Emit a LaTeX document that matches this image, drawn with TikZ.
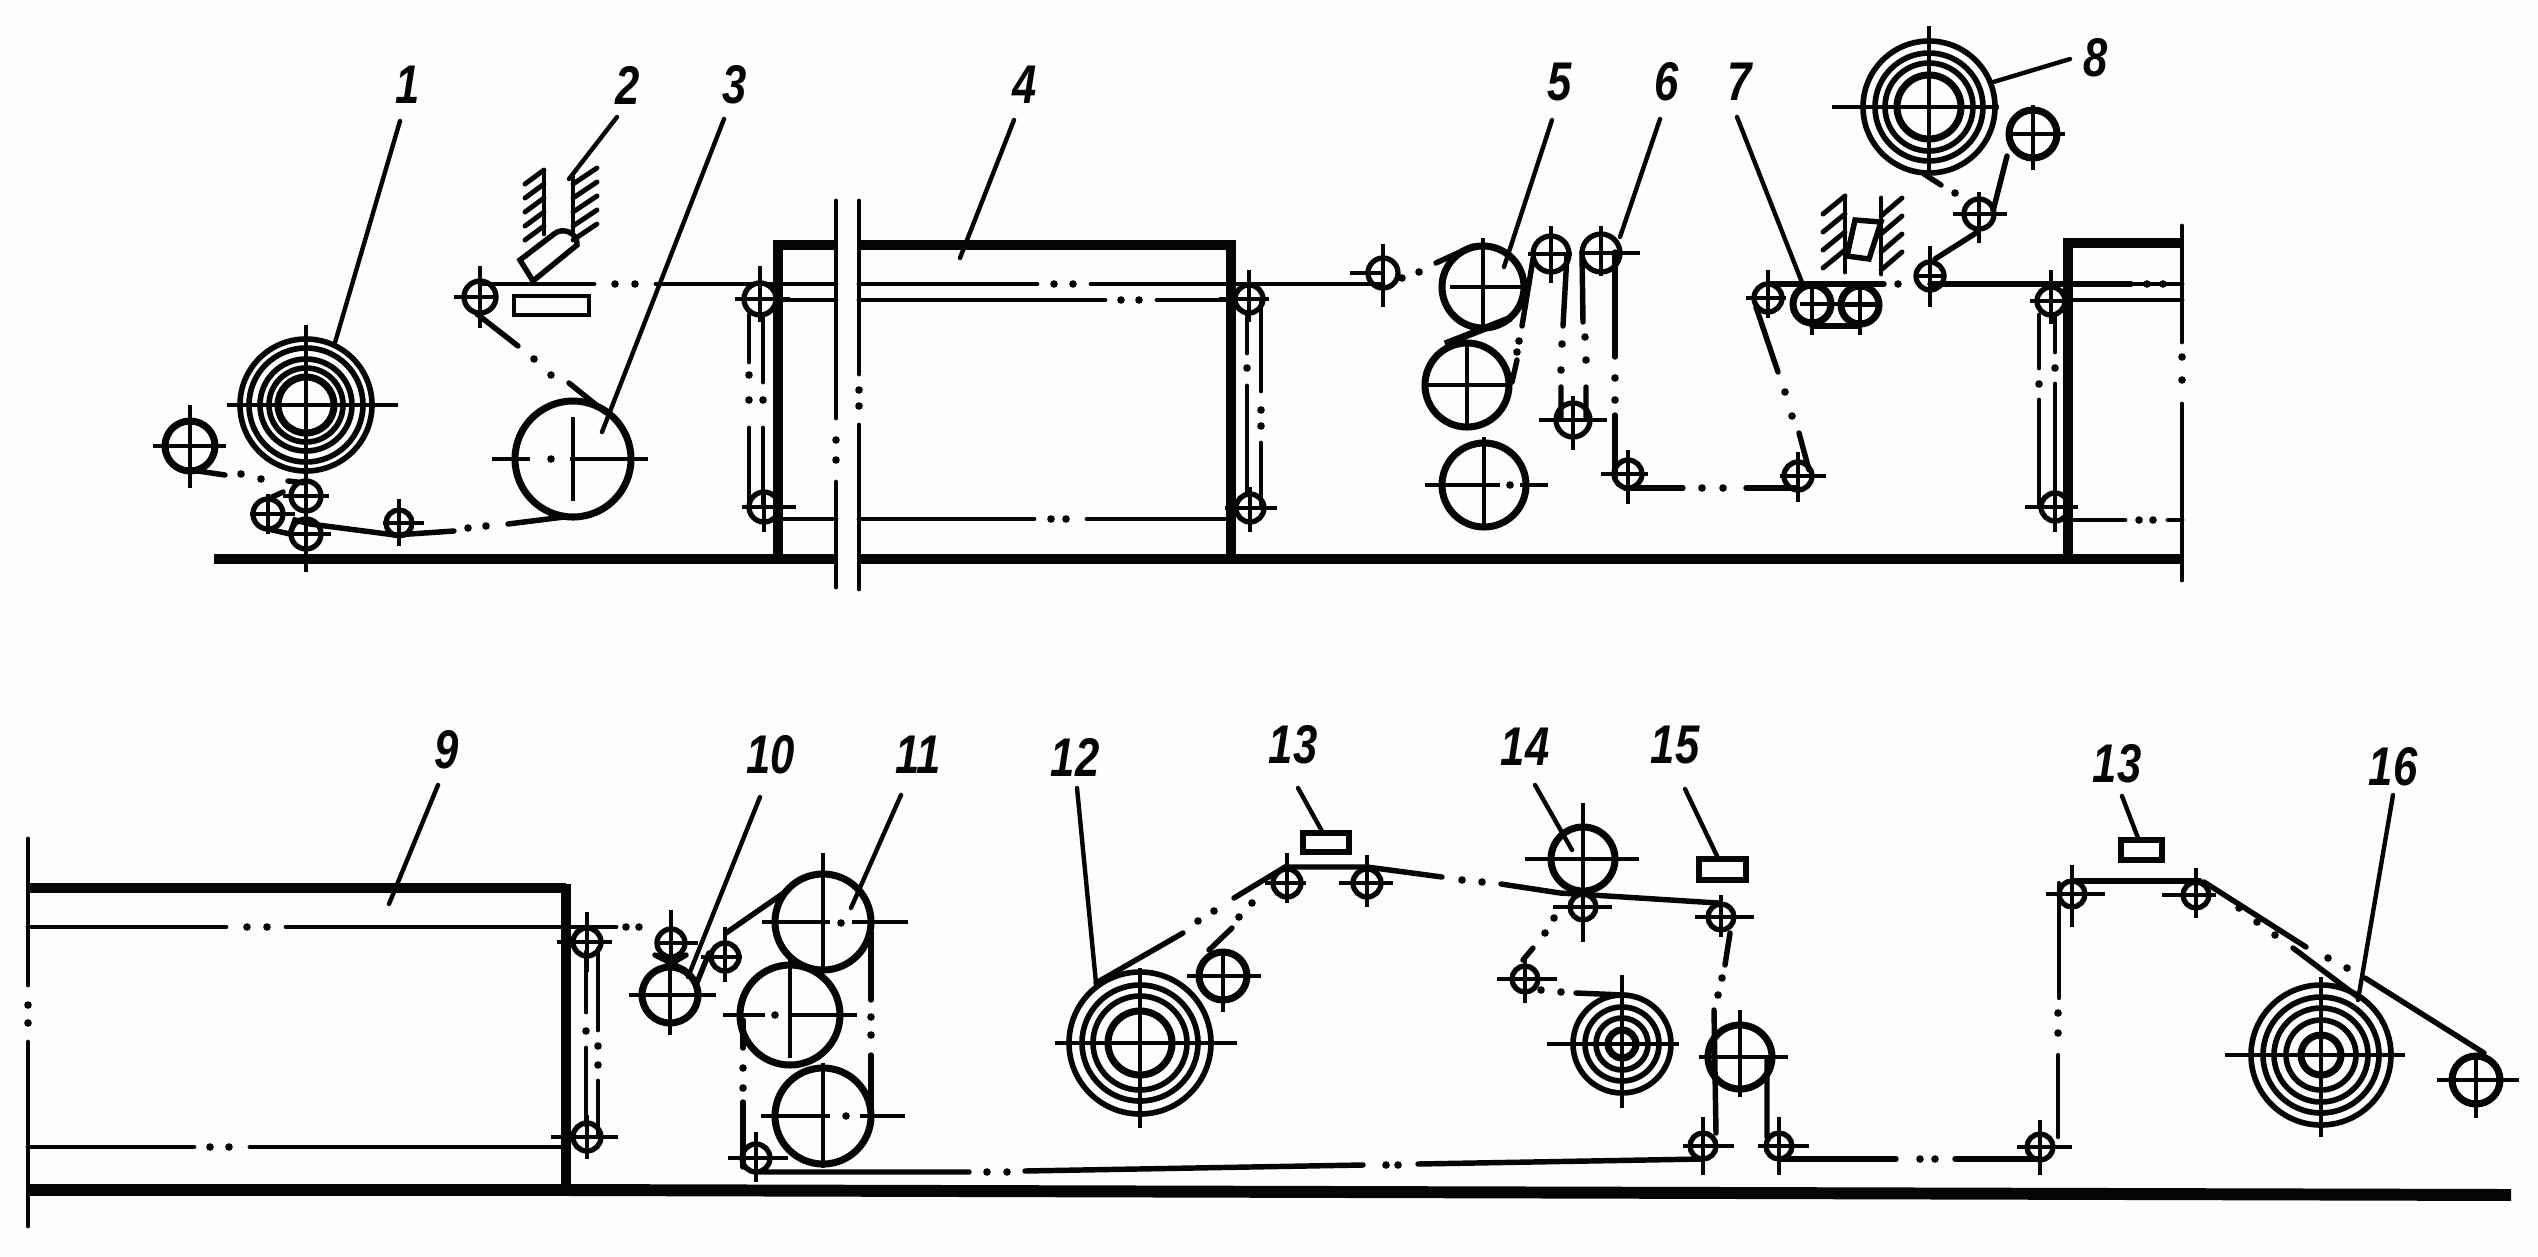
\documentclass[tikz,border=0pt]{standalone}
\usepackage{fontspec}
\setmainfont{Liberation Sans}
\definecolor{paper}{HTML}{FDFDFB}
\definecolor{ink}{HTML}{050505}
\tikzset{
  thin ln/.style={draw=ink,line width=1.4pt,line cap=round},
  web/.style={draw=ink,line width=1.55pt,line cap=round},
  lead/.style={draw=ink,line width=1.25pt,line cap=round},
  frame ln/.style={draw=ink,line width=2.7pt},
  base ln/.style={draw=ink,line width=3.1pt},
  big/.style={draw=ink,line width=2pt},
  small/.style={draw=ink,line width=1.5pt},
  ring/.style={draw=ink,line width=1.6pt},
  cross/.style={draw=ink,line width=1.3pt},
  box/.style={draw=ink,line width=1.3pt},
  num/.style={text=ink,inner sep=0pt,font=\fontsize{15.5}{15.5}\selectfont\bfseries\itshape,xscale=.8}
}
% roller: style, x, y, r, h-left, h-right, v-top, v-bottom
\newcommand{\rol}[8]{\draw[#1] (#2,#3) circle (#4);\draw[cross] (#5,#3) -- (#6,#3) (#2,#7) -- (#2,#8);}
% dots on a centre line
\newcommand{\dotsat}[1]{\foreach \p/\q in {#1} \fill[ink] (\p,\q) circle (3.8);}
\begin{document}
\begin{tikzpicture}[x=0.01cm,y=-0.01cm]
\useasboundingbox (0,0) rectangle (2538,1257);
\fill[paper] (0,0) rectangle (2538,1257);

%=============== TOP ROW ===============
% base
\draw[base ln] (214,559) -- (836,559) (859,559) -- (2184,559);
% frame 4
\draw[frame ln] (778,560) -- (778,245) -- (836,245) (859,245) -- (1231,245) -- (1231,560);
\draw[thin ln] (836,201) -- (836,418) (836,482) -- (836,587);
\draw[thin ln] (859,201) -- (859,374) (859,425) -- (859,589);
\dotsat{836/440,836/460,859/390,859/406}
\draw[thin ln] (480,284) -- (594,284) (656,284) -- (836,284) (859,284) -- (1037,284) (1091,284) -- (1383,284);
\dotsat{615/284,635/284,1054/284,1073/284}
\draw[thin ln] (778,300) -- (836,300) (859,300) -- (1105,300) (1157,300) -- (1226,300);
\dotsat{1121/300,1139/300}
\draw[thin ln] (778,519) -- (836,519) (859,519) -- (1034,519) (1087,519) -- (1226,519);
\dotsat{1051/519,1066/519}
% frame 4 rollers
\rol{small}{760}{299}{16}{735}{790}{266}{322}
\rol{small}{764}{507}{15}{742}{796}{490}{532}
\draw[thin ln] (749,315) -- (749,362) (749,428) -- (749,507) (763,315) -- (763,382) (763,428) -- (763,507);
\dotsat{749/375,749/400,763/400}
\rol{small}{1249}{299}{14}{1219}{1269}{270}{322}
\rol{small}{1250}{508}{14}{1225}{1277}{487}{532}
\draw[thin ln] (1247,315) -- (1247,353) (1247,386) -- (1247,494) (1261,301) -- (1261,391) (1261,443) -- (1261,508);
\dotsat{1247/368,1261/410,1261/426}

% roll 1 and feed rollers
\foreach \r in {66,57,46,37}{\draw[ring] (306,405) circle (\r);}
\draw[big] (306,405) circle (28);
\draw[cross] (227,405) -- (398,405) (306,325) -- (306,481);
\rol{big}{190}{446}{25}{153}{226}{405}{488}
\rol{small}{306}{496}{15}{283}{329}{470}{522}
\rol{small}{268}{514}{15}{250}{295}{494}{534}
\rol{small}{306}{534}{15}{290}{331}{515}{572}
\rol{small}{399}{523}{13}{383}{424}{499}{546}
\draw[web] (191,470) -- (225,475) (288,481) -- (306,483);
\dotsat{241/474,261/479}
\draw[web] (283,492) -- (268,499) (268,529) -- (290,534) -- (295,520) -- (310,524) -- (395,535) -- (454,531);
\dotsat{468/528,486/526}
\draw[web] (508,524) -- (564,517);

% roller 3
\draw[big] (573,459) circle (58);
\draw[cross] (492,459) -- (530,459) (570,459) -- (648,459) (573,417) -- (573,501);
\dotsat{551/459}
\draw[web] (605,412) -- (569,383) (518,346) -- (477,314);
\dotsat{534/359,551/375}
\rol{small}{480}{297}{16}{454}{495}{266}{328}
\draw[box] (514,296) rectangle (589,315);

% knife 2
\draw[thin ln] (544,172) -- (544,234) (573,177) -- (573,232);
\foreach \y in {178,192,206,220,234}{\draw[thin ln] (544,\y-8) -- (525,\y+6);}
\foreach \y in {178,192,206,220,234}{\draw[thin ln] (573,\y+6) -- (597,\y-10);}
\draw[web] (533,281) -- (520,260) -- (554,234) .. controls (562,227) and (578,232) .. (577,245) -- (533,281);

% rollers 5
\rol{big}{1483}{287}{41}{1450}{1522}{238}{328}
\rol{big}{1467}{385}{42}{1428}{1510}{345}{430}
\draw[big] (1484,485) circle (42);
\draw[cross] (1425,485) -- (1500,485) (1520,485) -- (1548,485) (1484,437) -- (1484,528);
\dotsat{1510/485}
\rol{small}{1383}{273}{15}{1350}{1383}{244}{307}
\draw[web] (1436,263) -- (1473,246);
\dotsat{1402/278,1419/272}
\draw[big] (1511,318) -- (1445,344);
% rollers 6
\rol{small}{1551}{254}{18}{1528}{1572}{226}{283}
\rol{small}{1601}{253}{19}{1580}{1640}{226}{276}
\rol{small}{1573}{420}{17}{1539}{1607}{396}{450}
\draw[web] (1533,259) -- (1522,326) (1517,360) -- (1512,382);
\dotsat{1519/341,1517/352}
\draw[web] (1567,255) -- (1563,326) (1561,387) -- (1561,418);
\dotsat{1562/344,1561/370}
\draw[web] (1582,252) -- (1583,322) (1586,387) -- (1586,418);
\dotsat{1585/337,1586/360}
\draw[web] (1615,252) -- (1615,357) (1615,415) -- (1615,478);
\dotsat{1615/378,1615/400}
\rol{small}{1628}{474}{14}{1601}{1648}{450}{504}
\rol{small}{1798}{476}{14}{1780}{1826}{452}{502}
\draw[web] (1625,488) -- (1683,488) (1746,488) -- (1798,488);
\dotsat{1702/488,1723/488}
\draw[web] (1756,307) -- (1778,372) (1799,433) -- (1809,470);
\dotsat{1785/392,1792/416}
% rollers 7
\rol{small}{1768}{298}{14}{1746}{1786}{270}{318}
\rol{big}{1812}{304}{19}{1800}{1880}{287}{335}
\rol{big}{1860}{305}{19}{1842}{1880}{287}{335}
\draw[web] (1769,284) -- (1884,284);
\draw[web] (1812,326) -- (1860,326);
\dotsat{1898/284}
% knife 8
\draw[thin ln] (1845,196) -- (1845,272) (1881,198) -- (1881,274);
\foreach \y in {214,232,250,268}{\draw[thin ln] (1823,\y) -- (1845,\y-18);}
\foreach \y in {216,234,252,270}{\draw[thin ln] (1881,\y) -- (1902,\y-18);}
\draw[web] (1855,220) -- (1881,222) -- (1869,259) -- (1847,256) -- cycle;
% roll 8
\foreach \r in {66,54,44}{\draw[ring] (1929,107) circle (\r);}
\draw[big] (1929,107) circle (32);
\draw[cross] (1832,107) -- (1999,107) (1929,26) -- (1929,174);
\rol{big}{2033}{134}{24}{2007}{2065}{105}{170}
\rol{small}{1979}{214}{15}{1953}{2007}{192}{243}
\rol{small}{1930}{276}{14}{1916}{1945}{246}{307}
\draw[web] (1924,174) -- (1941,185) (2007,156) -- (1993,211) (1976,233) -- (1935,259);
\dotsat{1955/193}
\draw[web] (1930,284) -- (2131,284);
\dotsat{2147/284,2163/284}
% right frame
\draw[frame ln] (2068,560) -- (2068,243) -- (2182,243);
\draw[thin ln] (2182,226) -- (2182,342) (2182,404) -- (2182,580);
\dotsat{2182/357,2182/380}
\draw[thin ln] (2131,284) -- (2182,284);
\draw[thin ln] (2068,300) -- (2182,300);
\draw[thin ln] (2068,520) -- (2125,520) (2168,520) -- (2182,520);
\dotsat{2139/520,2153/520}
\rol{small}{2051}{301}{14}{2030}{2070}{270}{324}
\rol{small}{2055}{507}{14}{2025}{2078}{485}{532}
\draw[thin ln] (2039,315) -- (2039,368) (2039,400) -- (2039,507) (2055,315) -- (2055,352) (2055,384) -- (2055,493);
\dotsat{2039/384,2055/368}

% labels & leaders top
\node[num] (n1) at (408,85) {1};
\node[num] (n2) at (628,85) {2};
\node[num] (n3) at (735,85) {3};
\node[num] (n4) at (1025,85) {4};
\node[num] (n5) at (1560,82) {5};
\node[num] (n6) at (1667,82) {6};
\node[num] (n7) at (1740,82) {7};
\node[num] (n8) at (2096,58) {8};
\draw[lead] (400,121) -- (334,346);
\draw[lead] (617,117) -- (569,179);
\draw[lead] (724,119) -- (602,432);
\draw[lead] (1014,120) -- (960,258);
\draw[lead] (1552,120) -- (1504,267);
\draw[lead] (1660,119) -- (1620,237);
\draw[lead] (1737,117) -- (1803,285);
\draw[lead] (2070,59) -- (1990,83);

%=============== BOTTOM ROW ===============
\draw[base ln,line width=3.4pt] (28,1190) -- (566,1190) -- (2511,1195);
% frame 9
\draw[frame ln] (28,888) -- (566,888);
\draw[frame ln] (566,884) -- (566,1190);
\draw[thin ln] (28,839) -- (28,985) (28,1042) -- (28,1226);
\dotsat{28/1005,28/1023}
\draw[thin ln] (28,927) -- (226,927) (286,927) -- (616,927);
\dotsat{247/927,267/927,626/927,639/927}
\draw[thin ln] (28,1147) -- (194,1147) (250,1147) -- (563,1147);
\dotsat{210/1147,229/1147}
\rol{small}{587}{942}{14}{557}{612}{912}{972}
\rol{small}{587}{1137}{14}{551}{618}{1115}{1159}
\draw[thin ln] (586,952) -- (586,1012) (586,1048) -- (586,1125) (598,949) -- (598,1030) (598,1081) -- (598,1135);
\dotsat{586/1031,598/1046,598/1065}
% rollers 10
\rol{small}{671}{943}{14}{655}{698}{910}{965}
\rol{big}{670}{995}{28}{629}{716}{967}{1035}
\rol{small}{725}{957}{14}{701}{742}{927}{982}
\draw[web] (696,985) -- (709,953) (726,933) -- (788,890);
\draw[web] (655,955) -- (685,970) (686,955) -- (660,970);
% rollers 11
\draw[big] (823,922) circle (48);
\draw[cross] (762,922) -- (830,922) (852,922) -- (908,922) (823,853) -- (823,967);
\dotsat{841/923}
\draw[big] (790,1015) circle (50);
\draw[cross] (723,1015) -- (765,1015) (790,1015) -- (857,1015) (790,955) -- (790,1058);
\dotsat{775/1015}
\draw[big] (823,1116) circle (48);
\draw[cross] (761,1116) -- (830,1116) (860,1116) -- (905,1116) (823,1063) -- (823,1168);
\dotsat{846/1116}
\draw[web] (871,933) -- (871,1000) (871,1055) -- (871,1113);
\dotsat{871/1017,871/1035}
\draw[web] (743,1020) -- (743,1048) (743,1102) -- (743,1167);
\dotsat{743/1068,743/1088}
\rol{small}{756}{1158}{14}{728}{788}{1132}{1182}
\draw[web] (760,1172) -- (969,1172) (1025,1171) -- (1363,1165) (1418,1164) -- (1703,1159);
\dotsat{987/1172,1007/1172,1386/1165,1398/1165}
% roll 12
\foreach \r in {71,58,47}{\draw[ring] (1140,1043) circle (\r);}
\draw[big] (1140,1043) circle (32);
\draw[cross] (1055,1043) -- (1237,1043) (1140,968) -- (1140,1128);
\draw[web] (1096,983) -- (1183,933) (1234,898) -- (1285,867);
\dotsat{1198/921,1214/911}
\rol{big}{1223}{976}{24}{1187}{1261}{950}{1012}
\draw[web] (1209,950) -- (1232,928);
\dotsat{1239/917,1252/903}
\rol{small}{1287}{883}{14}{1265}{1306}{853}{903}
\draw[box,line width=1.5pt] (1303,833) rectangle (1349,852);
\rol{small}{1367}{883}{14}{1339}{1393}{855}{907}
\draw[web] (1285,867) -- (1367,867) -- (1442,877) (1501,884) -- (1560,893) -- (1718,903);
\dotsat{1462/880,1482/882}
% roller 14
\rol{big}{1583}{859}{32}{1525}{1639}{803}{890}
\rol{small}{1583}{907}{13}{1553}{1612}{895}{942}
\rol{small}{1721}{917}{13}{1695}{1754}{895}{937}
\draw[box,line width=1.5pt] (1699,859) rectangle (1746,880);
\dotsat{1554/918,1545/933}
\draw[web] (1533,948) -- (1523,960);
\rol{small}{1525}{979}{13}{1497}{1557}{960}{1003}
\dotsat{1541/990,1561/992}
\draw[web] (1576,993) -- (1624,995);
% roll 14b
\foreach \r in {49,37,26}{\draw[ring] (1622,1044) circle (\r);}
\draw[big] (1622,1044) circle (14);
\draw[cross] (1547,1044) -- (1679,1044) (1622,975) -- (1622,1108);
% roller 15
\rol{big}{1740}{1057}{32}{1699}{1788}{1010}{1097}
\draw[web] (1730,933) -- (1725,965) (1714,1010) -- (1716,1133) (1767,1060) -- (1767,1137);
\dotsat{1722/978,1718/995}
\rol{small}{1703}{1146}{13}{1683}{1734}{1117}{1175}
\rol{small}{1779}{1146}{13}{1758}{1809}{1117}{1175}
\draw[web] (1781,1159) -- (1896,1159) (1955,1159) -- (2038,1159);
\dotsat{1920/1159,1935/1159}
\rol{small}{2040}{1147}{13}{2017}{2072}{1120}{1175}
\draw[web,line width=1.25pt] (2058,1137) -- (2058,1055) (2059,998) -- (2059,883);
\dotsat{2058/1033,2058/1013}
\rol{small}{2072}{894}{13}{2046}{2105}{865}{927}
\draw[web] (2074,881) -- (2200,881);
\rol{small}{2196}{895}{13}{2162}{2216}{868}{918}
\draw[box,line width=1.5pt] (2121,840) rectangle (2162,860);
% roll 16
\foreach \r in {70,58,47,35}{\draw[ring] (2321,1055) circle (\r);}
\draw[big] (2321,1055) circle (20);
\draw[cross] (2225,1055) -- (2405,1055) (2321,977) -- (2321,1137);
\rol{big}{2476}{1080}{24}{2437}{2519}{1057}{1118}
\draw[web] (2204,882) -- (2306,947) (2365,978) -- (2484,1053);
\dotsat{2328/958,2347/968}
\draw[web] (2293,948) -- (2358,997);
\dotsat{2239/908,2257/922,2275/935}

% labels & leaders bottom
\node[num] (n9) at (447,750) {9};
\node[num] (n10) at (771,755) {10};
\node[num] (n11) at (918,755) {11};
\node[num] (n12) at (1075,757) {12};
\node[num] (n13) at (1293,745) {13};
\node[num] (n14) at (1525,747) {14};
\node[num] (n15) at (1675,745) {15};
\node[num] (n13b) at (2117,764) {13};
\node[num] (n16) at (2393,767) {16};
\draw[lead] (438,785) -- (389,904);
\draw[lead] (760,797) -- (688,977);
\draw[lead] (901,795) -- (851,908);
\draw[lead] (1077,788) -- (1096,983);
\draw[lead] (1298,788) -- (1323,833);
\draw[lead] (1535,785) -- (1572,850);
\draw[lead] (1685,789) -- (1718,858);
\draw[lead] (2122,796) -- (2138,838);
\draw[lead] (2393,795) -- (2358,1000);
\end{tikzpicture}
\end{document}
